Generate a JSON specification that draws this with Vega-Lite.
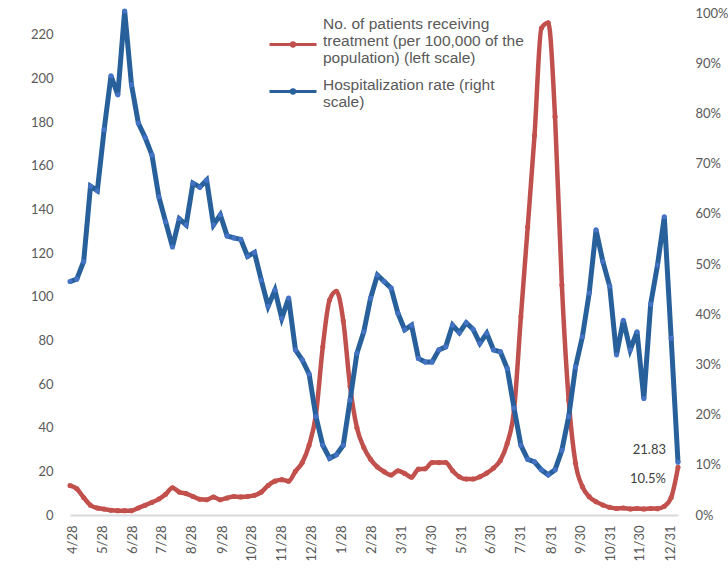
{
  "$schema": "https://vega.github.io/schema/vega-lite/v6.json",
  "width": 608,
  "height": 502,
  "autosize": {"type": "none"},
  "padding": {"left": 70, "top": 13, "right": 50, "bottom": 62},
  "background": "white",
  "config": {"view": {"stroke": null}},
  "datasets": {
    "d": [
      {"date": "2020-04-25", "p": 13.5, "r": 0.465},
      {"date": "2020-05-02", "p": 12, "r": 0.47},
      {"date": "2020-05-09", "p": 8, "r": 0.505},
      {"date": "2020-05-16", "p": 4.5, "r": 0.655},
      {"date": "2020-05-23", "p": 3.2, "r": 0.646},
      {"date": "2020-05-30", "p": 2.7, "r": 0.768},
      {"date": "2020-06-06", "p": 2.2, "r": 0.875},
      {"date": "2020-06-13", "p": 2, "r": 0.837},
      {"date": "2020-06-20", "p": 2, "r": 1.004},
      {"date": "2020-06-27", "p": 2, "r": 0.857},
      {"date": "2020-07-04", "p": 3.2, "r": 0.781},
      {"date": "2020-07-11", "p": 4.5, "r": 0.752},
      {"date": "2020-07-18", "p": 5.8, "r": 0.717},
      {"date": "2020-07-25", "p": 7.3, "r": 0.634},
      {"date": "2020-08-01", "p": 9.5, "r": 0.584},
      {"date": "2020-08-08", "p": 12.5, "r": 0.534},
      {"date": "2020-08-15", "p": 10.5, "r": 0.59},
      {"date": "2020-08-22", "p": 9.8, "r": 0.578},
      {"date": "2020-08-29", "p": 8.5, "r": 0.661},
      {"date": "2020-09-05", "p": 7.2, "r": 0.653},
      {"date": "2020-09-12", "p": 7, "r": 0.667},
      {"date": "2020-09-19", "p": 8.2, "r": 0.578},
      {"date": "2020-09-26", "p": 7, "r": 0.598},
      {"date": "2020-10-03", "p": 7.8, "r": 0.556},
      {"date": "2020-10-10", "p": 8.5, "r": 0.552},
      {"date": "2020-10-17", "p": 8.3, "r": 0.549},
      {"date": "2020-10-24", "p": 8.5, "r": 0.515},
      {"date": "2020-10-31", "p": 9, "r": 0.523},
      {"date": "2020-11-07", "p": 10.5, "r": 0.468},
      {"date": "2020-11-14", "p": 13.5, "r": 0.416},
      {"date": "2020-11-21", "p": 15.5, "r": 0.448},
      {"date": "2020-11-28", "p": 16.2, "r": 0.392},
      {"date": "2020-12-05", "p": 15.5, "r": 0.432},
      {"date": "2020-12-12", "p": 20, "r": 0.329},
      {"date": "2020-12-19", "p": 24, "r": 0.309},
      {"date": "2020-12-26", "p": 32, "r": 0.281},
      {"date": "2021-01-02", "p": 46, "r": 0.196},
      {"date": "2021-01-09", "p": 77, "r": 0.139},
      {"date": "2021-01-16", "p": 98.5, "r": 0.113},
      {"date": "2021-01-23", "p": 102.5, "r": 0.12},
      {"date": "2021-01-30", "p": 89, "r": 0.139},
      {"date": "2021-02-06", "p": 59, "r": 0.229},
      {"date": "2021-02-13", "p": 40, "r": 0.322},
      {"date": "2021-02-20", "p": 31, "r": 0.365},
      {"date": "2021-02-27", "p": 25.5, "r": 0.432},
      {"date": "2021-03-06", "p": 22, "r": 0.478},
      {"date": "2021-03-13", "p": 19.8, "r": 0.465},
      {"date": "2021-03-20", "p": 18.3, "r": 0.452},
      {"date": "2021-03-27", "p": 20.3, "r": 0.402},
      {"date": "2021-04-03", "p": 19, "r": 0.369},
      {"date": "2021-04-10", "p": 17.3, "r": 0.378},
      {"date": "2021-04-17", "p": 21, "r": 0.312},
      {"date": "2021-04-24", "p": 21.2, "r": 0.305},
      {"date": "2021-05-01", "p": 24, "r": 0.305},
      {"date": "2021-05-08", "p": 24, "r": 0.329},
      {"date": "2021-05-15", "p": 24, "r": 0.335},
      {"date": "2021-05-22", "p": 20.3, "r": 0.378},
      {"date": "2021-05-29", "p": 17.5, "r": 0.363},
      {"date": "2021-06-05", "p": 16.5, "r": 0.383},
      {"date": "2021-06-12", "p": 16.5, "r": 0.37},
      {"date": "2021-06-19", "p": 17.5, "r": 0.342},
      {"date": "2021-06-26", "p": 19.2, "r": 0.362},
      {"date": "2021-07-03", "p": 21.5, "r": 0.329},
      {"date": "2021-07-10", "p": 25, "r": 0.325},
      {"date": "2021-07-17", "p": 32.8, "r": 0.292},
      {"date": "2021-07-24", "p": 48, "r": 0.213},
      {"date": "2021-07-31", "p": 90.8, "r": 0.139},
      {"date": "2021-08-07", "p": 132, "r": 0.111},
      {"date": "2021-08-14", "p": 174, "r": 0.106},
      {"date": "2021-08-21", "p": 223, "r": 0.09},
      {"date": "2021-08-28", "p": 225.5, "r": 0.08},
      {"date": "2021-09-04", "p": 182.5, "r": 0.09},
      {"date": "2021-09-11", "p": 105.4, "r": 0.129},
      {"date": "2021-09-18", "p": 52.7, "r": 0.196},
      {"date": "2021-09-25", "p": 23.7, "r": 0.295},
      {"date": "2021-10-02", "p": 13, "r": 0.355},
      {"date": "2021-10-09", "p": 8.4, "r": 0.442},
      {"date": "2021-10-16", "p": 6.1, "r": 0.568},
      {"date": "2021-10-23", "p": 4.6, "r": 0.505},
      {"date": "2021-10-30", "p": 3.5, "r": 0.456},
      {"date": "2021-11-06", "p": 3, "r": 0.319},
      {"date": "2021-11-13", "p": 3.2, "r": 0.388},
      {"date": "2021-11-20", "p": 2.8, "r": 0.329},
      {"date": "2021-11-27", "p": 3, "r": 0.365},
      {"date": "2021-12-04", "p": 2.8, "r": 0.232},
      {"date": "2021-12-11", "p": 3, "r": 0.42},
      {"date": "2021-12-18", "p": 2.9, "r": 0.498},
      {"date": "2021-12-25", "p": 4, "r": 0.594},
      {"date": "2022-01-01", "p": 8, "r": 0.352},
      {"date": "2022-01-08", "p": 21.83, "r": 0.105, "pl": "21.83", "rl": "10.5%"}
    ]
  },
  "data": {"name": "d"},
  "encoding": {
    "x": {
      "field": "date",
      "type": "temporal",
      "scale": {
        "type": "utc",
        "nice": false,
        "domain": [
          {"year": 2020, "month": 4, "date": 25, "utc": true},
          {"year": 2022, "month": 1, "date": 8, "utc": true}
        ]
      },
      "axis": {
        "title": null,
        "values": [
          {"year": 2020, "month": 4, "date": 28, "utc": true},
          {"year": 2020, "month": 5, "date": 28, "utc": true},
          {"year": 2020, "month": 6, "date": 28, "utc": true},
          {"year": 2020, "month": 7, "date": 28, "utc": true},
          {"year": 2020, "month": 8, "date": 28, "utc": true},
          {"year": 2020, "month": 9, "date": 28, "utc": true},
          {"year": 2020, "month": 10, "date": 28, "utc": true},
          {"year": 2020, "month": 11, "date": 28, "utc": true},
          {"year": 2020, "month": 12, "date": 28, "utc": true},
          {"year": 2021, "month": 1, "date": 28, "utc": true},
          {"year": 2021, "month": 2, "date": 28, "utc": true},
          {"year": 2021, "month": 3, "date": 31, "utc": true},
          {"year": 2021, "month": 4, "date": 30, "utc": true},
          {"year": 2021, "month": 5, "date": 31, "utc": true},
          {"year": 2021, "month": 6, "date": 30, "utc": true},
          {"year": 2021, "month": 7, "date": 31, "utc": true},
          {"year": 2021, "month": 8, "date": 31, "utc": true},
          {"year": 2021, "month": 9, "date": 30, "utc": true},
          {"year": 2021, "month": 10, "date": 31, "utc": true},
          {"year": 2021, "month": 11, "date": 30, "utc": true},
          {"year": 2021, "month": 12, "date": 31, "utc": true}
        ],
        "labelExpr": "utcFormat(datum.value, '%-m/%-d')",
        "labelAngle": 270,
        "labelFlush": false,
        "labelOverlap": false,
        "labelPadding": 10,
        "labelFont": "Lato",
        "labelFontSize": 13,
        "labelColor": "#595959",
        "ticks": false,
        "tickSize": 0,
        "grid": false,
        "domain": true,
        "domainColor": "#d9d9d9",
        "domainWidth": 2
      }
    }
  },
  "layer": [
    {
      "layer": [
        {
          "mark": {"type": "line", "strokeWidth": 4.5, "interpolate": "monotone"},
          "encoding": {
            "y": {
              "field": "p",
              "type": "quantitative",
              "scale": {"domain": [0, 230], "nice": false, "zero": true},
              "axis": {
                "orient": "left",
                "title": null,
                "values": [0, 20, 40, 60, 80, 100, 120, 140, 160, 180, 200, 220],
                "labelFont": "Lato",
                "labelFontSize": 13,
                "labelColor": "#595959",
                "labelPadding": 17,
                "ticks": false,
                "tickSize": 0,
                "grid": false,
                "domain": false
              }
            },
            "color": {
              "datum": "patients",
              "scale": {"domain": ["patients", "rate"], "range": ["#C0504D", "#27609A"]},
              "legend": {
                "orient": "none",
                "legendX": 198,
                "legendY": 6.5,
                "title": null,
                "padding": 0,
                "symbolType": "M-1,0H1M0.07,0A0.07,0.07,0,1,1,-0.07,0A0.07,0.07,0,1,1,0.07,0Z",
                "symbolSize": 2209,
                "symbolStrokeWidth": 3,
                "labelExpr": "datum.label == 'patients' ? ['No. of patients receiving', 'treatment (per 100,000 of the', 'population) (left scale)'] : ['Hospitalization rate (right', 'scale)']",
                "labelFont": "Liberation Sans",
                "labelFontSize": 15.5,
                "labelColor": "#595959",
                "labelLimit": 500,
                "labelOffset": 5,
                "rowPadding": 0,
                "encode": {"labels": {"update": {"lineHeight": {"value": 17.2}, "dy": {"signal": "datum.value == 'patients' ? -21 : -7"}}}}
              }
            }
          }
        },
        {
          "mark": {"type": "point", "filled": true, "size": 26, "color": "#C4504C", "opacity": 1},
          "encoding": {"y": {"field": "p", "type": "quantitative"}}
        },
        {
          "transform": [{"filter": "isValid(datum.pl)"}],
          "mark": {"type": "text", "align": "right", "baseline": "middle", "dx": -12, "dy": -17, "font": "Lato", "fontSize": 13, "color": "#404040"},
          "encoding": {"y": {"field": "p", "type": "quantitative"}, "text": {"field": "pl"}}
        }
      ]
    },
    {
      "layer": [
        {
          "mark": {"type": "line", "strokeWidth": 5},
          "encoding": {
            "y": {
              "field": "r",
              "type": "quantitative",
              "scale": {"domain": [0, 1], "nice": false, "zero": true},
              "axis": {
                "orient": "right",
                "title": null,
                "values": [0, 0.1, 0.2, 0.3, 0.4, 0.5, 0.6, 0.7, 0.8, 0.9, 1],
                "format": ".0%",
                "labelFont": "Lato",
                "labelFontSize": 13,
                "labelColor": "#595959",
                "labelPadding": 17,
                "ticks": false,
                "tickSize": 0,
                "grid": false,
                "domain": false
              }
            },
            "color": {"datum": "rate"}
          }
        },
        {
          "mark": {"type": "point", "filled": true, "size": 26, "color": "#4472C4", "opacity": 1},
          "encoding": {"y": {"field": "r", "type": "quantitative"}}
        },
        {
          "transform": [{"filter": "isValid(datum.rl)"}],
          "mark": {"type": "text", "align": "right", "baseline": "middle", "dx": -12, "dy": 16.5, "font": "Lato", "fontSize": 13, "color": "#404040"},
          "encoding": {"y": {"field": "r", "type": "quantitative"}, "text": {"field": "rl"}}
        }
      ]
    }
  ],
  "resolve": {"scale": {"y": "independent"}, "axis": {"y": "independent"}}
}
